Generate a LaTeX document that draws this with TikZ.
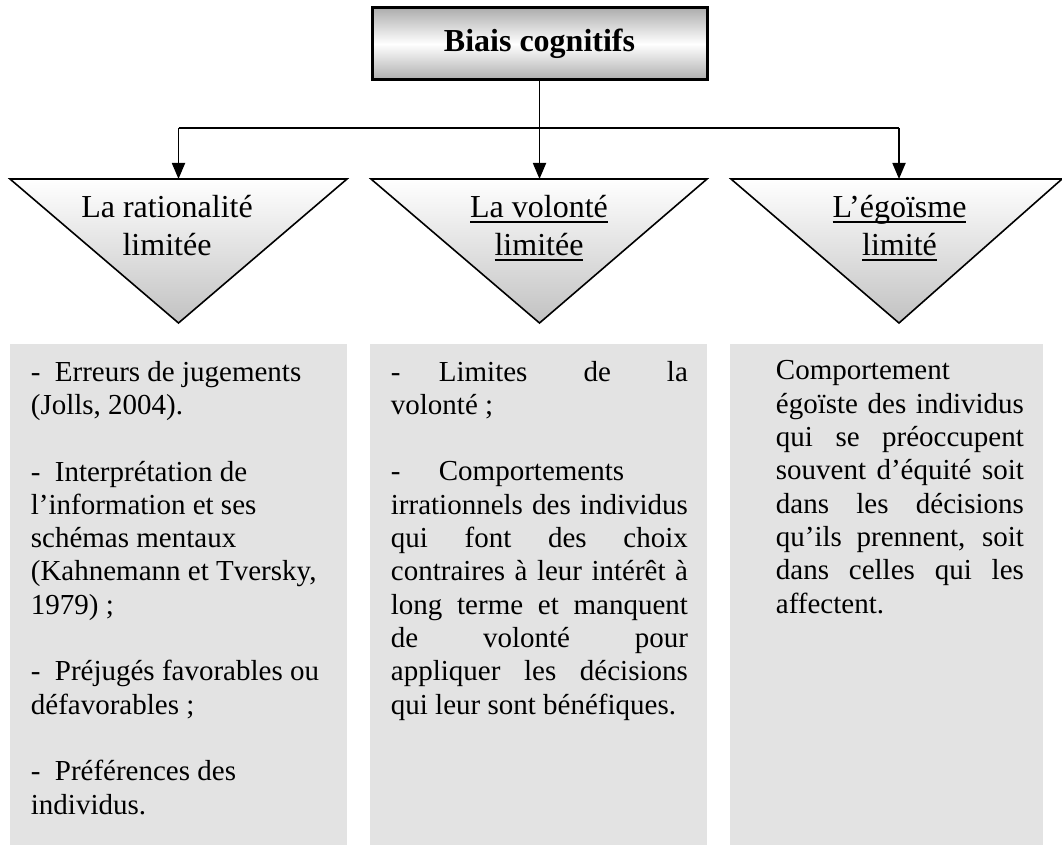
\documentclass[tikz,border=0pt]{standalone}
\usepackage{fontspec}
\setmainfont{Liberation Serif}
\usetikzlibrary{arrows.meta}

\definecolor{boxgray}{gray}{0.89}
\definecolor{edgegray}{gray}{0.68}
\definecolor{tipgray}{gray}{0.76}

% thick underline just below the baseline, whatever the descenders
\newcommand{\ulin}[1]{\setbox0\hbox{#1}\rlap{\rule[-6pt]{\wd0}{1.8pt}}\box0}
% one justified line of given width
\newcommand{\jline}[2]{\makebox[#1][s]{#2}}

\begin{document}
\begin{tikzpicture}[x=1pt,y=-1pt,line width=1.8pt,
  arr/.style={-{Triangle[length=16pt,width=13pt]}},
  head/.style={font=\fontsize{32}{38}\selectfont,align=center,anchor=base},
  body/.style={font=\fontsize{29}{33.3}\selectfont,align=left,anchor=base west,inner sep=0pt}]
\useasboundingbox (0,0) rectangle (1062,845);

% title box
\node[draw,line width=3pt,top color=edgegray,bottom color=edgegray,middle color=white,
  minimum width=335pt,minimum height=72pt,font=\fontsize{32}{38}\selectfont\bfseries]
  (title) at (539.5,44) {Biais cognitifs};

% triangles
\foreach \l/\r/\a/\n in {10/347/178.5/1, 371/707/539.5/2, 731/1062/899/3}{
  \shadedraw[line width=1.6pt,top color=white,bottom color=tipgray] (\l,179) -- (\r,179) -- (\a,323) -- cycle;
  \coordinate (t\n) at (\a,179);
}

% connectors
\coordinate (fork) at (539.5,128);
\draw (t1 |- fork) -- (t3 |- fork);
\draw[arr] (title.south) -- (t2);
\draw[arr] (t1 |- fork) -- (t1);
\draw[arr] (t3 |- fork) -- (t3);

% labels (placed by the baseline of their last line)
\node[head] (lab1) at (167,255) {La rationalité\\limitée};
\node[head] (lab2) at (539,255) {\ulin{La volonté}\\\ulin{limitée}};
\node[head] (lab3) at (899.5,255) {\ulin{L’égoïsme}\\\ulin{limité}};

% grey boxes
\foreach \l/\r in {10/347, 370/707, 730/1043}
  \fill[boxgray] (\l,344) rectangle (\r,845);

\node[body] (txt1) at (30,814) {\makebox[24pt][l]{-}Erreurs de jugements\\
(Jolls, 2004).\\[33.3pt]
\makebox[24pt][l]{-}Interprétation de\\
l’information et ses\\
schémas mentaux\\
(Kahnemann et Tversky,\\
1979) ;\\[33.3pt]
\makebox[24pt][l]{-}Préjugés favorables ou\\
défavorables ;\\[33.3pt]
\makebox[24pt][l]{-}Préférences des\\
individus.};

\node[body] (txt2) at (390,714) {\makebox[48pt][l]{-}\jline{249pt}{Limites de la}\\
volonté ;\\[33.3pt]
\makebox[48pt][l]{-}Comportements\\
\jline{297pt}{irrationnels des individus}\\
\jline{297pt}{qui font des choix}\\
\jline{297pt}{contraires à leur intérêt à}\\
\jline{297pt}{long terme et manquent}\\
\jline{297pt}{de volonté pour}\\
\jline{297pt}{appliquer les décisions}\\
qui leur sont bénéfiques.};

\node[body] (txt3) at (775,613) {Comportement\\
\jline{248pt}{égoïste des individus}\\
\jline{248pt}{qui se préoccupent}\\
\jline{248pt}{souvent d’équité soit}\\
\jline{248pt}{dans les décisions}\\
\jline{248pt}{qu’ils prennent, soit}\\
\jline{248pt}{dans celles qui les}\\
affectent.};

\end{tikzpicture}
\end{document}
